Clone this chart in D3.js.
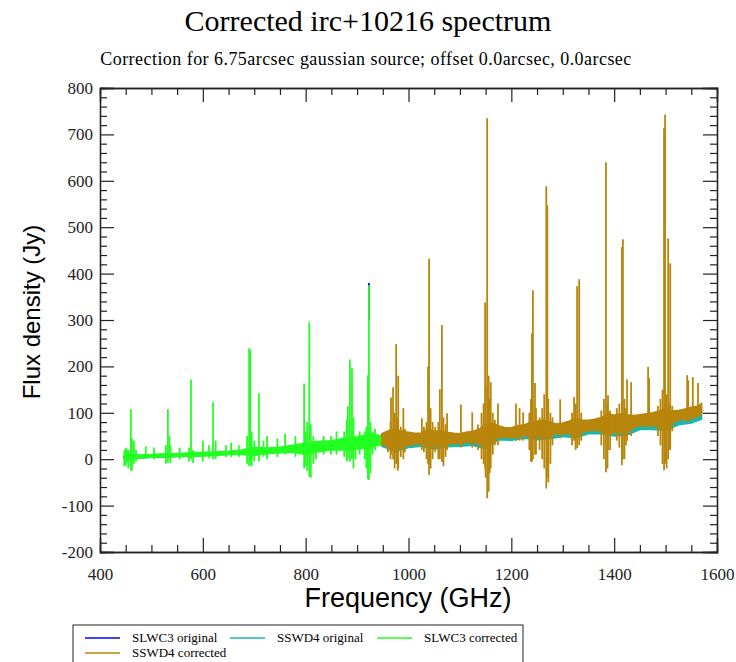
<!DOCTYPE html>
<html>
<head>
<meta charset="utf-8">
<script src="https://cdn.jsdelivr.net/npm/d3@7"></script>
<style>
body { margin: 0; background: #fff; }
svg { display: block; }
</style>
</head>
<body>
<svg id="chart" width="736" height="662"></svg>
<script>
// --- data ---
var xTicks = [400, 600, 800, 1000, 1200, 1400, 1600];
var yTicks = [-200, -100, 0, 100, 200, 300, 400, 500, 600, 700, 800];

// SLWC3 corrected (green): baseline band
var greenFreq = [447, 452, 460, 475, 500, 525, 550, 575, 600, 625, 650, 675, 700, 725, 750, 775, 800, 825, 850, 875, 900, 925, 950, 975, 1000, 1018];
var greenLo   = [-12, -5, 0, 2, 4, 5, 6, 6, 7, 8, 10, 10, 8, 12, 14, 15, 10, 16, 20, 20, 22, 25, 32, 35, 36, 38];
var greenHi   = [18, 20, 12, 9, 10, 12, 12, 14, 15, 16, 17, 20, 25, 24, 26, 30, 35, 38, 40, 45, 48, 55, 50, 52, 54, 50];
// lines and noise bursts: [freq, top, bottom]
var greenSpikes = [[450, 25, -15], [455, 20, -20], [460, 108, -24], [462, 45, -25], [466, 40, -10], [470, 20, -5], [489, 28, 2],
  [505, 25, 0], [528, 30, -10], [532, 108, -8], [535, 50, 0], [537, 30, -8], [555, 25, 0], [573, 25, -5], [577, 172, 0],
  [581, 20, -8], [600, 40, -5], [612, 30, 2], [620, 123, 0], [625, 40, 0], [645, 30, 5], [655, 35, 5], [670, 30, 5],
  [686, 50, -10], [690, 239, -15], [692, 236, -12], [695, 60, -15], [700, 40, -5], [709, 142, -5], [718, 40, 5], [725, 50, 0],
  [745, 45, 5], [760, 55, 10], [780, 50, 5], [797, 163, -20], [800, 60, -15], [803, 80, -25], [807, 295, -38], [810, 75, -40],
  [815, 50, -10], [820, 40, 0], [835, 50, 10], [849, 50, 10], [860, 60, 10], [875, 60, 5], [880, 85, -5], [882, 114, 0],
  [886, 215, -5], [890, 196, 0], [893, 90, -20], [897, 50, 0], [905, 60, 10], [915, 60, 0], [918, 70, -20], [921, 181, -43],
  [923, 375, -45], [926, 80, -30], [930, 60, 10], [935, 65, 20]];

// SLWC3 original (blue), mostly hidden under the green
var blueFreq = [447, 600, 800, 950, 1018];
var blueLo   = [2, 8, 20, 34, 40];
var blueHi   = [6, 12, 25, 40, 48];
var blueSpikes = [[923, 380, 300], [960, 60, 50], [990, 62, 55], [1016, 52, 48]];

// SSWD4 corrected (gold): baseline band
var goldFreq = [948, 962, 975, 988, 1000, 1012, 1025, 1038, 1050, 1062, 1075, 1088, 1100, 1112, 1125, 1138, 1150, 1162, 1175, 1188, 1200, 1212, 1225, 1238, 1250, 1262, 1275, 1288, 1300, 1312, 1325, 1338, 1350, 1362, 1375, 1388, 1400, 1412, 1425, 1438, 1450, 1462, 1475, 1488, 1500, 1512, 1525, 1538, 1550, 1562, 1570];
var goldLo   = [32, 25, 22, 28, 30, 32, 34, 28, 30, 26, 33, 34, 34, 36, 37, 34, 30, 40, 48, 47, 47, 49, 52, 48, 50, 45, 52, 55, 56, 55, 52, 58, 62, 62, 62, 52, 58, 62, 60, 68, 72, 72, 72, 70, 70, 78, 84, 86, 88, 92, 98];
var goldHi   = [55, 62, 65, 60, 58, 56, 56, 65, 60, 62, 58, 56, 55, 58, 60, 65, 75, 78, 72, 68, 68, 72, 74, 80, 82, 85, 80, 76, 78, 82, 88, 84, 84, 86, 90, 98, 95, 98, 96, 94, 96, 98, 100, 104, 110, 104, 105, 108, 112, 114, 120];
var goldSpikes = [[960, 60, 15], [965, 80, 0], [966, 133, 10], [970, 155, 0], [973, 100, -20], [976, 248, -10], [979, 90, -25],
  [980, 180, -20], [985, 70, 5], [990, 110, 0], [993, 65, 15], [1026, 88, 20], [1030, 70, 15], [1035, 80, 0], [1038, 200, -10],
  [1040, 432, -34], [1043, 110, -20], [1047, 80, 0], [1052, 70, 15], [1058, 80, 0], [1061, 151, 0], [1065, 289, -6],
  [1068, 90, -15], [1072, 75, 5], [1075, 99, 20], [1102, 118, 25], [1124, 101, 25], [1135, 75, 20], [1142, 100, 0],
  [1146, 120, -10], [1149, 338, -20], [1150, 160, -40], [1153, 735, -84], [1156, 180, -70], [1158, 130, -30], [1160, 166, -20],
  [1164, 100, 10], [1168, 85, 30], [1174, 120, 30], [1209, 120, 40], [1216, 110, 40], [1223, 101, 40], [1235, 100, 20],
  [1238, 130, -5], [1240, 271, -6], [1242, 364, 0], [1246, 164, 10], [1248, 110, 10], [1255, 90, 20], [1260, 110, 0],
  [1264, 140, -20], [1268, 588, -63], [1270, 547, -40], [1272, 130, -50], [1276, 100, -10], [1280, 90, 30], [1295, 129, 45],
  [1318, 100, 30], [1322, 134, 40], [1325, 120, 20], [1328, 373, 24], [1332, 388, 30], [1336, 100, 40], [1375, 105, 30],
  [1380, 130, 0], [1384, 640, -28], [1387, 120, -20], [1388, 138, 20], [1392, 105, 20], [1405, 110, 40], [1410, 120, 25],
  [1415, 457, -13], [1417, 474, 0], [1420, 130, 0], [1423, 110, 30], [1425, 172, 40], [1433, 166, 50], [1466, 199, 70],
  [1468, 175, 70], [1485, 115, 50], [1490, 130, 30], [1494, 150, -10], [1497, 713, -24], [1499, 743, -10], [1502, 140, -20],
  [1505, 476, 0], [1507, 120, 20], [1509, 422, 20], [1513, 115, 60], [1542, 181, 80], [1544, 170, 80], [1553, 177, 85],
  [1563, 164, 90]];

// SSWD4 original (cyan): sits a little below the gold band
var cyanFreq = [948, 975, 1000, 1025, 1050, 1075, 1100, 1125, 1150, 1175, 1200, 1225, 1250, 1275, 1300, 1325, 1350, 1375, 1400, 1425, 1450, 1475, 1500, 1525, 1550, 1570];
var cyanLo   = [28, 16, 25, 28, 22, 27, 28, 30, 22, 42, 41, 45, 42, 44, 49, 46, 55, 55, 50, 52, 64, 64, 62, 74, 78, 86];
var cyanHi   = [50, 55, 52, 50, 52, 50, 48, 52, 62, 65, 62, 66, 72, 72, 70, 78, 76, 80, 85, 85, 88, 92, 98, 96, 102, 110];

var legendItems = [
  {label: "SLWC3 original", color: "#0000ff"},
  {label: "SSWD4 original", color: "#1db5b0"},
  {label: "SLWC3 corrected", color: "#22ff22"},
  {label: "SSWD4 corrected", color: "#b8860b"}
];

// --- layout ---
var svg = d3.select("#chart");
var plotLeft = 100, plotRight = 717, plotTop = 88, plotBottom = 552;

var xScale = d3.scaleLinear().domain([400, 1600]).range([plotLeft, plotRight]);
var yScale = d3.scaleLinear().domain([-200, 800]).range([plotBottom, plotTop]);

var serif = "'Liberation Serif', 'Times New Roman', serif";
var sans = "'Liberation Sans', Arial, sans-serif";

// titles
svg.append("text").attr("x", 368).attr("y", 31).attr("text-anchor", "middle")
  .style("font-family", serif).style("font-size", "30px").text("Corrected irc+10216 spectrum");
svg.append("text").attr("x", 366).attr("y", 65).attr("text-anchor", "middle")
  .style("font-family", serif).style("font-size", "18px").style("letter-spacing", "0.45px")
  .text("Correction for 6.75arcsec gaussian source; offset 0.0arcsec, 0.0arcsec");

var plot = svg.append("g");
plot.append("clipPath").attr("id", "clip").append("rect")
  .attr("x", plotLeft).attr("y", plotTop).attr("width", plotRight - plotLeft).attr("height", plotBottom - plotTop);
var dataG = plot.append("g").attr("clip-path", "url(#clip)");

function drawSeries(freq, lo, hi, spikes, color) {
  var pts = freq.map(function (f, i) { return [f, lo[i], hi[i]]; });
  var area = d3.area()
    .x(function (d) { return xScale(d[0]); })
    .y0(function (d) { return yScale(d[1]); })
    .y1(function (d) { return yScale(d[2]); });
  dataG.append("path").attr("d", area(pts)).attr("fill", color).attr("stroke", color).attr("stroke-width", 1.5);
  dataG.selectAll(null).data(spikes).enter().append("line")
    .attr("x1", function (d) { return xScale(d[0]); })
    .attr("x2", function (d) { return xScale(d[0]); })
    .attr("y1", function (d) { return yScale(d[1]); })
    .attr("y2", function (d) { return yScale(d[2]); })
    .attr("stroke", color).attr("stroke-width", 1.8);
}

drawSeries(blueFreq, blueLo, blueHi, blueSpikes, legendItems[0].color);
drawSeries(greenFreq, greenLo, greenHi, greenSpikes, legendItems[2].color);
drawSeries(cyanFreq, cyanLo, cyanHi, [], legendItems[1].color);
drawSeries(goldFreq, goldLo, goldHi, goldSpikes, legendItems[3].color);

// frame and inside ticks on all four sides
var axisColor = "#222";
var xMinor = d3.range(400, 1601, 50).filter(function (v) { return v % 200 !== 0; });
var yMinor = d3.range(-200, 801, 20).filter(function (v) { return v % 100 !== 0; });
var plainFmt = function (d) { return String(d); };

var gB = plot.append("g").attr("transform", "translate(0," + plotBottom + ")")
  .call(d3.axisBottom(xScale).tickValues(xTicks).tickSize(-14).tickFormat(plainFmt));
plot.append("g").attr("transform", "translate(0," + plotTop + ")")
  .call(d3.axisTop(xScale).tickValues(xTicks).tickSize(-14).tickFormat(""));
var gL = plot.append("g").attr("transform", "translate(" + plotLeft + ",0)")
  .call(d3.axisLeft(yScale).tickValues(yTicks).tickSize(-14).tickFormat(plainFmt));
plot.append("g").attr("transform", "translate(" + plotRight + ",0)")
  .call(d3.axisRight(yScale).tickValues(yTicks).tickSize(-14).tickFormat(""));
plot.append("g").attr("transform", "translate(0," + plotBottom + ")")
  .call(d3.axisBottom(xScale).tickValues(xMinor).tickSize(-7).tickFormat(""));
plot.append("g").attr("transform", "translate(0," + plotTop + ")")
  .call(d3.axisTop(xScale).tickValues(xMinor).tickSize(-7).tickFormat(""));
plot.append("g").attr("transform", "translate(" + plotLeft + ",0)")
  .call(d3.axisLeft(yScale).tickValues(yMinor).tickSize(-7).tickFormat(""));
plot.append("g").attr("transform", "translate(" + plotRight + ",0)")
  .call(d3.axisRight(yScale).tickValues(yMinor).tickSize(-7).tickFormat(""));

plot.selectAll(".domain").attr("stroke", axisColor).attr("stroke-width", 1.3);
plot.selectAll(".tick line").attr("stroke", axisColor).attr("stroke-width", 1.2);
gB.attr("font-family", serif).attr("font-size", 17);
gL.attr("font-family", serif).attr("font-size", 17);
plot.selectAll(".tick text").attr("fill", "#222")
  .style("font-family", serif).style("font-size", "17px");
// the x labels sit below the frame, the y labels to the left
gB.selectAll(".tick text").attr("y", 16);
gL.selectAll(".tick text").attr("x", -7);

// axis titles
svg.append("text").attr("x", 408).attr("y", 607).attr("text-anchor", "middle")
  .style("font-family", sans).style("font-size", "27px").text("Frequency (GHz)");
svg.append("text").attr("transform", "translate(40,312) rotate(-90)").attr("text-anchor", "middle")
  .style("font-family", sans).style("font-size", "24px").text("Flux density (Jy)");

// legend
var lg = svg.append("g");
lg.append("rect").attr("x", 73).attr("y", 625).attr("width", 450).attr("height", 50)
  .attr("fill", "#fff").attr("stroke", "#222").attr("stroke-width", 1);
var legPos = [[85, 638], [230, 638], [377, 638], [85, 653]];
legendItems.forEach(function (it, i) {
  var p = legPos[i];
  lg.append("line").attr("x1", p[0]).attr("x2", p[0] + 35).attr("y1", p[1]).attr("y2", p[1])
    .attr("stroke", it.color).attr("stroke-width", 1.5);
  lg.append("text").attr("x", p[0] + 47).attr("y", p[1] + 4)
    .style("font-family", serif).style("font-size", "13px").text(it.label);
});
</script>
</body>
</html>
